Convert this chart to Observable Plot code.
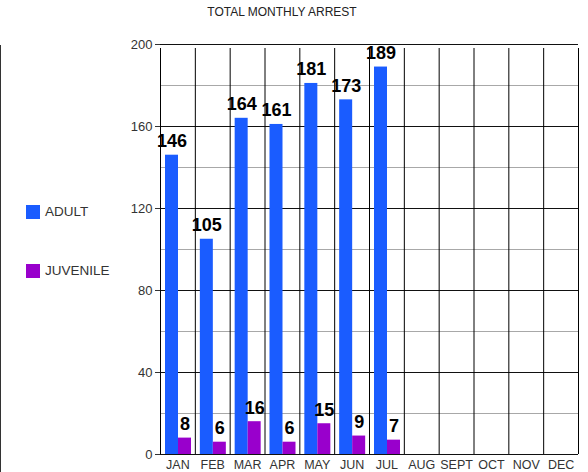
<!DOCTYPE html>
<html>
<head>
<meta charset="utf-8">
<script src="https://cdn.jsdelivr.net/npm/d3@7"></script>
<script src="https://cdn.jsdelivr.net/npm/@observablehq/plot@0.6"></script>
<style>
  html, body { margin: 0; padding: 0; background: #fff; }
  #wrap { position: relative; width: 588px; height: 472px; overflow: hidden; font-family: "Liberation Sans", Arial, sans-serif; }
  #title { position: absolute; top: 5px; left: 0; width: 564px; text-align: center; font-size: 12px; color: #222; }
  #border { position: absolute; left: 0; top: 45px; width: 1px; height: 430px; background: #333; }
  .leg { position: absolute; left: 26px; font-size: 13.5px; color: #333; display: flex; align-items: center; }
  .sw { width: 14px; height: 14px; margin-right: 5px; }
  #chart { position: absolute; left: 0; top: 0; }
</style>
</head>
<body>
<div id="wrap">
  <div id="border"></div>
  <div id="chart"></div>
  <div id="title">TOTAL MONTHLY ARREST</div>
  <div id="legend"></div>
</div>
<script>
const months = ["JAN","FEB","MAR","APR","MAY","JUN","JUL","AUG","SEPT","OCT","NOV","DEC"];
const adultMonths = ["JAN","FEB","MAR","APR","MAY","JUN","JUL"];
const adult = [146, 105, 164, 161, 181, 173, 189];
const juvenile = [8, 6, 16, 6, 15, 9, 7];
const seriesNames = ["ADULT", "JUVENILE"];
const seriesColors = ["#1a5cff", "#9900cc"];
const majorTicks = [0, 40, 80, 120, 160, 200];
const minorTicks = [20, 60, 100, 140, 180];

const W = 588, H = 472;
const mL = 160, mR = 10, mT = 44, mB = 18;
const bw = (W - mL - mR) / months.length;

const adultData = adultMonths.map((m, i) => ({month: m, value: adult[i]}));
const juvData = adultMonths.map((m, i) => ({month: m, value: juvenile[i]}));

const chart = Plot.plot({
  width: W, height: H,
  marginLeft: mL, marginRight: mR, marginTop: mT, marginBottom: mB,
  style: {fontFamily: "Liberation Sans, Arial, sans-serif", background: "transparent"},
  x: {domain: months, padding: 0, round: false, label: null},
  y: {domain: [0, 200], label: null},
  marks: [
    Plot.ruleY(minorTicks, {stroke: "#a8a8a8", strokeWidth: 1}),
    Plot.ruleY(majorTicks, {stroke: "#111", strokeWidth: 1}),
    Plot.ruleX(months, {x: d => d, dx: -bw / 2, y1: 0, y2: 200, insetBottom: -4, stroke: "#000", strokeWidth: 1}),
    Plot.ruleX([months[months.length - 1]], {x: d => d, dx: bw / 2, y1: 0, y2: 200, insetBottom: -4, stroke: "#000", strokeWidth: 1}),
    Plot.barY(adultData, {x: "month", y: "value", fill: seriesColors[0], insetLeft: 5, insetRight: bw - 18}),
    Plot.barY(juvData, {x: "month", y: "value", fill: seriesColors[1], insetLeft: 18, insetRight: bw - 31}),
    Plot.text(adultData, {x: "month", y: "value", text: d => String(d.value), dx: 11.5 - bw / 2, dy: -8, lineAnchor: "bottom", fontSize: 18, fontWeight: "bold", fill: "#000"}),
    Plot.text(juvData, {x: "month", y: "value", text: d => String(d.value), dx: 24.5 - bw / 2, dy: -8, lineAnchor: "bottom", fontSize: 18, fontWeight: "bold", fill: "#000"}),
    Plot.axisY({ticks: majorTicks, tickSize: 5, tickPadding: 3, fontSize: 13, color: "#333", label: null}),
    Plot.axisX({tickSize: 0, tickPadding: 6, fontSize: 12.5, color: "#333", label: null})
  ]
});
document.getElementById("chart").appendChild(chart);

const legend = document.getElementById("legend");
const legendTops = [204, 263];
seriesNames.forEach((name, i) => {
  const row = document.createElement("div");
  row.className = "leg";
  row.style.top = legendTops[i] + "px";
  const sw = document.createElement("div");
  sw.className = "sw";
  sw.style.background = seriesColors[i];
  row.appendChild(sw);
  const t = document.createElement("span");
  t.textContent = name;
  row.appendChild(t);
  legend.appendChild(row);
});
</script>
</body>
</html>
